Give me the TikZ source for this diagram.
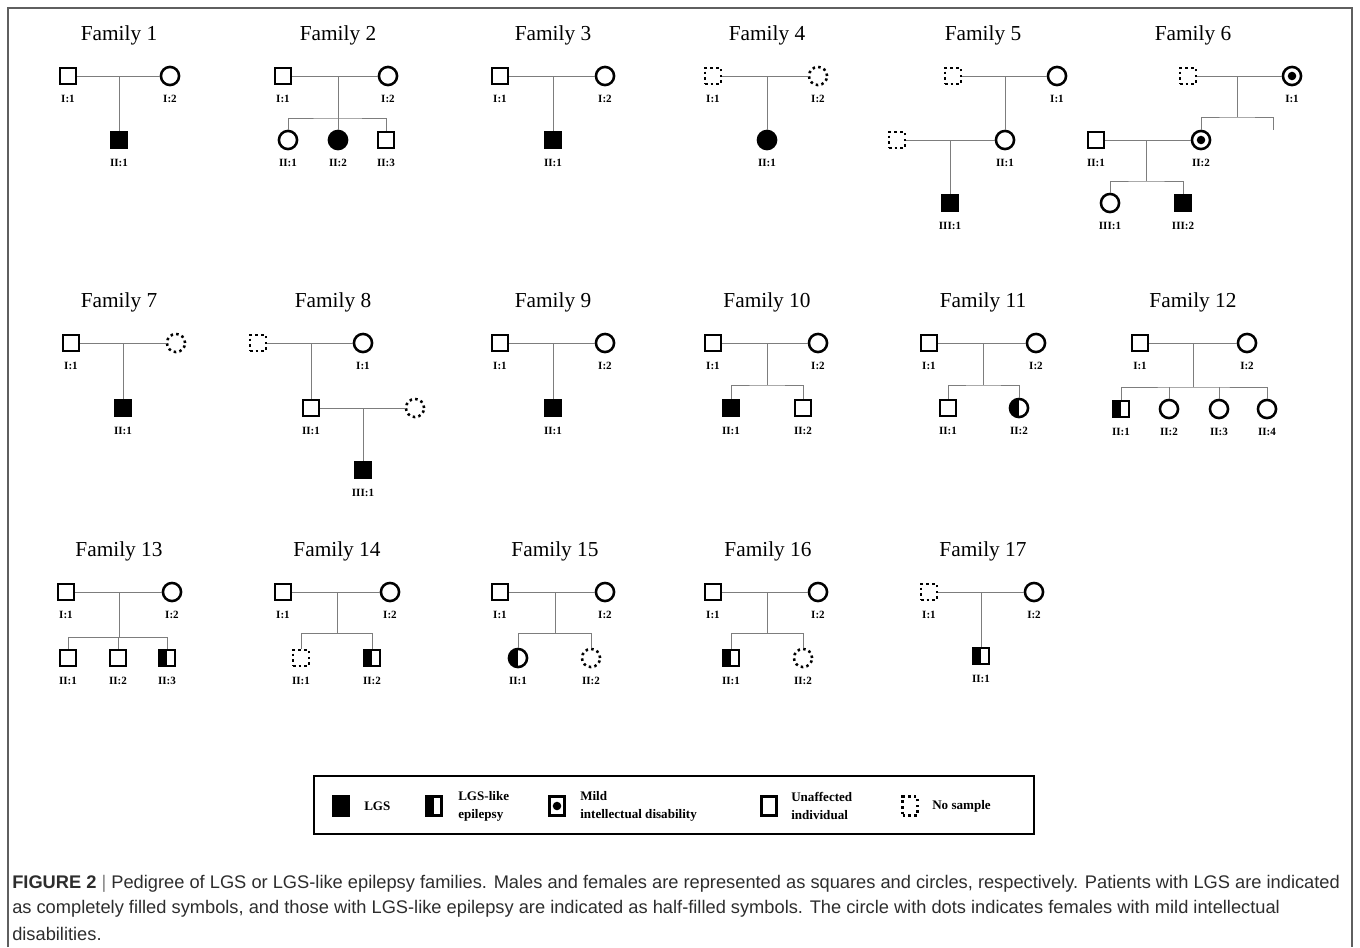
\documentclass[tikz,border=0pt]{standalone}
\usepackage{fontspec}
\setmainfont{Liberation Serif}
\setsansfont{Liberation Sans}
\usetikzlibrary{positioning}
\definecolor{linegray}{RGB}{125,125,125}
\definecolor{framegray}{RGB}{95,95,95}
\definecolor{captext}{RGB}{45,45,45}
% one person: style, name, x, y, id label
\newcommand{\ind}[5]{%
  \node[#1] (#2) at (#3,#4) {};
  \node[idlab] (#2l) at (#3,#4+23) {#5};}
\tikzset{
  sym/.style={draw,line width=1.9pt,inner sep=0pt,fill=white},
  male/.style={sym,rectangle,minimum size=12pt},
  female/.style={sym,circle,minimum size=13.6pt},
  nos/.style={dash pattern=on 1.9pt off 2.4pt},
  lgs/.style={fill=black},
  like/.style={path picture={\fill[black] (path picture bounding box.south west) rectangle (path picture bounding box.north);}},
  mild/.style={path picture={\fill[black] (path picture bounding box.center) circle (3.2pt);}},
  idlab/.style={font=\bfseries\fontsize{8.3}{9}\selectfont,inner sep=0pt},
  famtitle/.style={font=\fontsize{16}{18}\selectfont,inner sep=0pt},
  link/.style={draw=linegray,line width=0.75pt},
  legsym/.style={sym,rectangle,minimum width=11pt,minimum height=14pt},
  legtext/.style={font=\bfseries\fontsize{9.8}{13.5}\selectfont,align=left,anchor=west,inner sep=0pt},
  captxt/.style={font=\sffamily\fontsize{13.7}{15}\selectfont,text=captext,anchor=west,inner sep=0pt},
}

\begin{document}
\begin{tikzpicture}[x=0.75pt,y=-0.75pt]
  \useasboundingbox (0,0) rectangle (1360,947);
  \draw[framegray,line width=1.1pt] (8,947) |- (1352,8) -- (1352,947);

  % row 1
  \node[famtitle] (t1) at (119,35) {Family 1};
  \ind{male}{f1a}{68}{76}{I:1}
  \ind{female}{f1b}{170}{76}{I:2}
  \ind{male,lgs}{f1c}{119}{140}{II:1}
  \coordinate (f1m) at (119,76);
  \draw[link] (f1a) -- (f1b) (f1m) -- (f1c);

  \node[famtitle] (t2) at (338,35) {Family 2};
  \ind{male}{f2a}{283}{76}{I:1}
  \ind{female}{f2b}{388}{76}{I:2}
  \ind{female}{f2c}{288}{140}{II:1}
  \ind{female,lgs}{f2d}{338}{140}{II:2}
  \ind{male}{f2e}{386}{140}{II:3}
  \coordinate (f2m) at (338,76); \coordinate (f2s) at (338,118);
  \draw[link] (f2a) -- (f2b) (f2m) -- (f2d) (f2c.north) |- (f2s) -| (f2e.north);

  \node[famtitle] (t3) at (553,35) {Family 3};
  \ind{male}{f3a}{500}{76}{I:1}
  \ind{female}{f3b}{605}{76}{I:2}
  \ind{male,lgs}{f3c}{553}{140}{II:1}
  \coordinate (f3m) at (553,76);
  \draw[link] (f3a) -- (f3b) (f3m) -- (f3c);

  \node[famtitle] (t4) at (767,35) {Family 4};
  \ind{male,nos}{f4a}{713}{76}{I:1}
  \ind{female,nos}{f4b}{818}{76}{I:2}
  \ind{female,lgs}{f4c}{767}{140}{II:1}
  \coordinate (f4m) at (767,76);
  \draw[link] (f4a) -- (f4b) (f4m) -- (f4c);

  \node[famtitle] (t5) at (983,35) {Family 5};
  \node[male,nos] (f5a) at (953,76) {};
  \ind{female}{f5b}{1057}{76}{I:1}
  \ind{female}{f5c}{1005}{140}{II:1}
  \node[male,nos] (f5d) at (897,140) {};
  \ind{male,lgs}{f5e}{950}{203}{III:1}
  \coordinate (f5m) at (1005,76); \coordinate (f5n) at (950,140);
  \draw[link] (f5a) -- (f5b) (f5m) -- (f5c) (f5d) -- (f5c) (f5n) -- (f5e);

  \node[famtitle] (t6) at (1193,35) {Family 6};
  \node[male,nos] (f6a) at (1188,76) {};
  \ind{female,mild}{f6b}{1292}{76}{I:1}
  \ind{male}{f6c}{1096}{140}{II:1}
  \ind{female,mild}{f6d}{1201}{140}{II:2}
  \ind{female}{f6e}{1110}{203}{III:1}
  \ind{male,lgs}{f6f}{1183}{203}{III:2}
  \coordinate (f6m) at (1237,76); \coordinate (f6s) at (1237,117);
  \coordinate (f6x) at (1273,130);
  \coordinate (f6n) at (1146,140); \coordinate (f6t) at (1146,181);
  \draw[link] (f6a) -- (f6b) (f6m) -- (f6s) (f6d.north) |- (f6s) -| (f6x);
  \draw[link] (f6c) -- (f6d) (f6n) -- (f6t) (f6e.north) |- (f6t) -| (f6f.north);

  % row 2
  \node[famtitle] (t7) at (119,302) {Family 7};
  \ind{male}{f7a}{71}{343}{I:1}
  \node[female,nos] (f7b) at (176,343) {};
  \ind{male,lgs}{f7c}{123}{408}{II:1}
  \coordinate (f7m) at (123,343);
  \draw[link] (f7a) -- (f7b) (f7m) -- (f7c);

  \node[famtitle] (t8) at (333,302) {Family 8};
  \node[male,nos] (f8a) at (258,343) {};
  \ind{female}{f8b}{363}{343}{I:1}
  \ind{male}{f8c}{311}{408}{II:1}
  \node[female,nos] (f8d) at (415,408) {};
  \ind{male,lgs}{f8e}{363}{470}{III:1}
  \coordinate (f8m) at (311,343); \coordinate (f8n) at (363,408);
  \draw[link] (f8a) -- (f8b) (f8m) -- (f8c) (f8c) -- (f8d) (f8n) -- (f8e);

  \node[famtitle] (t9) at (553,302) {Family 9};
  \ind{male}{f9a}{500}{343}{I:1}
  \ind{female}{f9b}{605}{343}{I:2}
  \ind{male,lgs}{f9c}{553}{408}{II:1}
  \coordinate (f9m) at (553,343);
  \draw[link] (f9a) -- (f9b) (f9m) -- (f9c);

  \node[famtitle] (t10) at (767,302) {Family 10};
  \ind{male}{f10a}{713}{343}{I:1}
  \ind{female}{f10b}{818}{343}{I:2}
  \ind{male,lgs}{f10c}{731}{408}{II:1}
  \ind{male}{f10d}{803}{408}{II:2}
  \coordinate (f10m) at (767,343); \coordinate (f10s) at (767,385);
  \draw[link] (f10a) -- (f10b) (f10m) -- (f10s) (f10c.north) |- (f10s) -| (f10d.north);

  \node[famtitle] (t11) at (983,302) {Family 11};
  \ind{male}{f11a}{929}{343}{I:1}
  \ind{female}{f11b}{1036}{343}{I:2}
  \ind{male}{f11c}{948}{408}{II:1}
  \ind{female,like}{f11d}{1019}{408}{II:2}
  \coordinate (f11m) at (983,343); \coordinate (f11s) at (983,385);
  \draw[link] (f11a) -- (f11b) (f11m) -- (f11s) (f11c.north) |- (f11s) -| (f11d.north);

  \node[famtitle] (t12) at (1193,302) {Family 12};
  \ind{male}{f12a}{1140}{343}{I:1}
  \ind{female}{f12b}{1247}{343}{I:2}
  \ind{male,like}{f12c}{1121}{409}{II:1}
  \ind{female}{f12d}{1169}{409}{II:2}
  \ind{female}{f12e}{1219}{409}{II:3}
  \ind{female}{f12f}{1267}{409}{II:4}
  \coordinate (f12m) at (1193,343); \coordinate (f12s) at (1193,387);
  \draw[link] (f12a) -- (f12b) (f12m) -- (f12s) (f12c.north) |- (f12s) -| (f12f.north);
  \draw[link] (f12d.north) -- (f12d.north |- f12s) (f12e.north) -- (f12e.north |- f12s);

  % row 3
  \node[famtitle] (t13) at (119,551) {Family 13};
  \ind{male}{f13a}{66}{592}{I:1}
  \ind{female}{f13b}{172}{592}{I:2}
  \ind{male}{f13c}{68}{658}{II:1}
  \ind{male}{f13d}{118}{658}{II:2}
  \ind{male,like}{f13e}{167}{658}{II:3}
  \coordinate (f13m) at (119,592); \coordinate (f13s) at (119,637);
  \draw[link] (f13a) -- (f13b) (f13m) -- (f13s) (f13c.north) |- (f13s) -| (f13e.north);
  \draw[link] (f13d.north) -- (f13d.north |- f13s);

  \node[famtitle] (t14) at (337,551) {Family 14};
  \ind{male}{f14a}{283}{592}{I:1}
  \ind{female}{f14b}{390}{592}{I:2}
  \ind{male,nos}{f14c}{301}{658}{II:1}
  \ind{male,like}{f14d}{372}{658}{II:2}
  \coordinate (f14m) at (337,592); \coordinate (f14s) at (337,633);
  \draw[link] (f14a) -- (f14b) (f14m) -- (f14s) (f14c.north) |- (f14s) -| (f14d.north);

  \node[famtitle] (t15) at (555,551) {Family 15};
  \ind{male}{f15a}{500}{592}{I:1}
  \ind{female}{f15b}{605}{592}{I:2}
  \ind{female,like}{f15c}{518}{658}{II:1}
  \ind{female,nos}{f15d}{591}{658}{II:2}
  \coordinate (f15m) at (555,592); \coordinate (f15s) at (555,633);
  \draw[link] (f15a) -- (f15b) (f15m) -- (f15s) (f15c.north) |- (f15s) -| (f15d.north);

  \node[famtitle] (t16) at (768,551) {Family 16};
  \ind{male}{f16a}{713}{592}{I:1}
  \ind{female}{f16b}{818}{592}{I:2}
  \ind{male,like}{f16c}{731}{658}{II:1}
  \ind{female,nos}{f16d}{803}{658}{II:2}
  \coordinate (f16m) at (767,592); \coordinate (f16s) at (767,633);
  \draw[link] (f16a) -- (f16b) (f16m) -- (f16s) (f16c.north) |- (f16s) -| (f16d.north);

  \node[famtitle] (t17) at (983,551) {Family 17};
  \ind{male,nos}{f17a}{929}{592}{I:1}
  \ind{female}{f17b}{1034}{592}{I:2}
  \ind{male,like}{f17c}{981}{656}{II:1}
  \coordinate (f17m) at (981,592);
  \draw[link] (f17a) -- (f17b) (f17m) -- (f17c);

  % legend
  \node[draw,line width=1pt,minimum width=540pt,minimum height=43.5pt,inner sep=0pt] (leg) at (674,805) {};
  \node[legsym,lgs] (l1) at (341,806) {};
  \node[legtext] (l1t) at (364,806) {LGS};
  \node[legsym,like] (l2) at (434,806) {};
  \node[legtext] (l2t) at (458,806) {LGS-like\\epilepsy};
  \node[legsym,mild] (l3) at (557,806) {};
  \node[legtext] (l3t) at (580,806) {Mild\\intellectual disability};
  \node[legsym] (l4) at (769,806) {};
  \node[legtext] (l4t) at (791,806) {Unaffected\\individual};
  \node[legsym,nos] (l5) at (910,806) {};
  \node[legtext] (l5t) at (932,806) {No sample};

  % caption
  \node[captxt] (c1) at (12,884) {{\bfseries FIGURE 2} {\color{gray}|} Pedigree of LGS or LGS-like epilepsy families. Males and females are represented as squares and circles, respectively. Patients with LGS are indicated};
  \node[captxt] (c2) at (12,909) {as completely filled symbols, and those with LGS-like epilepsy are indicated as half-filled symbols. The circle with dots indicates females with mild intellectual};
  \node[captxt] (c3) at (12,934) {disabilities.};
\end{tikzpicture}
\end{document}
